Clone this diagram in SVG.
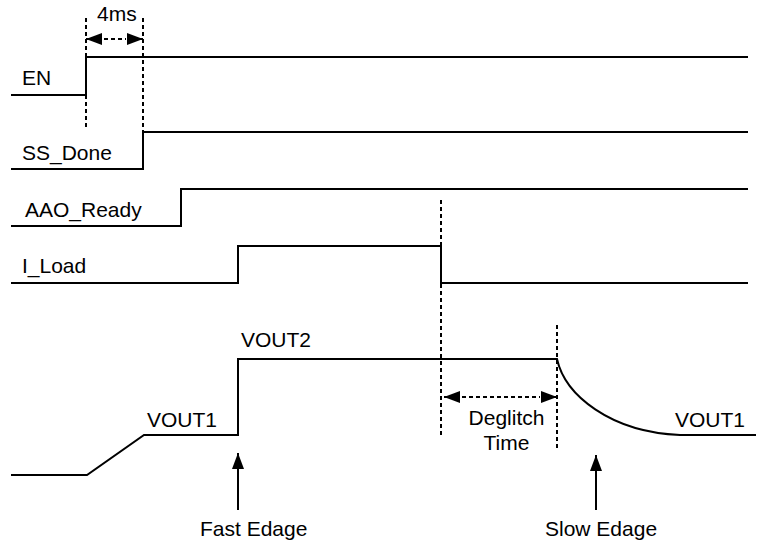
<svg xmlns="http://www.w3.org/2000/svg" width="764" height="544" viewBox="0 0 764 544">
<defs>
<style>
.sig{fill:none;stroke:#000;stroke-width:2}
.dash{fill:none;stroke:#000;stroke-width:2;stroke-dasharray:4,3}
.ah{fill:#000}
text{font-family:"Liberation Sans",Arial,sans-serif;font-size:21px;fill:#000}
</style>
<marker id="tri" viewBox="0 0 16 12" refX="16" refY="6" markerWidth="16" markerHeight="12" markerUnits="userSpaceOnUse" orient="auto">
<path d="M0,0 L16,6 L0,12 Z" class="ah"/>
</marker>
</defs>
<rect width="764" height="544" fill="#fff"/>
<g id="EN">
<polyline class="sig" points="11,95 86,95 86,57 748,57"/>
<text x="22" y="85">EN</text>
</g>
<g id="SS_Done">
<polyline class="sig" points="11,169 143,169 143,132 748,132"/>
<text x="22" y="160">SS_Done</text>
</g>
<g id="AAO_Ready">
<polyline class="sig" points="11,226 181,226 181,189 748,189"/>
<text x="25" y="217">AAO_Ready</text>
</g>
<g id="I_Load">
<polyline class="sig" points="11,283 238,283 238,246 441,246 441,283 748,283"/>
<text x="22" y="273">I_Load</text>
</g>
<g id="VOUT">
<path class="sig" d="M11,475 L87,475 L144,435 L238,435 L238,359 L557,359 C565,395 610,432 680,435 L756,435"/>
<text x="147" y="427">VOUT1</text>
<text x="241" y="347">VOUT2</text>
<text x="675" y="427">VOUT1</text>
</g>
<g id="connectors">
<line class="dash" x1="86" y1="18" x2="86" y2="128"/>
<line class="dash" x1="143" y1="18" x2="143" y2="132"/>
<line class="dash" x1="104" y1="39" x2="126" y2="39"/>
<line class="sig" x1="100" y1="39" x2="86" y2="39" marker-end="url(#tri)"/>
<line class="sig" x1="129" y1="39" x2="143" y2="39" marker-end="url(#tri)"/>
<text x="97" y="21">4ms</text>
<line class="dash" x1="441" y1="200" x2="441" y2="436"/>
<line class="dash" x1="557" y1="325" x2="557" y2="448"/>
<line class="dash" x1="462" y1="397" x2="540" y2="397"/>
<line class="sig" x1="458" y1="397" x2="444" y2="397" marker-end="url(#tri)"/>
<line class="sig" x1="543" y1="397" x2="557" y2="397" marker-end="url(#tri)"/>
<text x="506.5" y="425" text-anchor="middle">Deglitch</text>
<text x="506.5" y="450" text-anchor="middle">Time</text>
<line class="sig" x1="238" y1="510" x2="238" y2="453" marker-end="url(#tri)"/>
<text x="200" y="536">Fast Edage</text>
<line class="sig" x1="596" y1="510" x2="596" y2="455" marker-end="url(#tri)"/>
<text x="545" y="536">Slow Edage</text>
</g>
</svg>
